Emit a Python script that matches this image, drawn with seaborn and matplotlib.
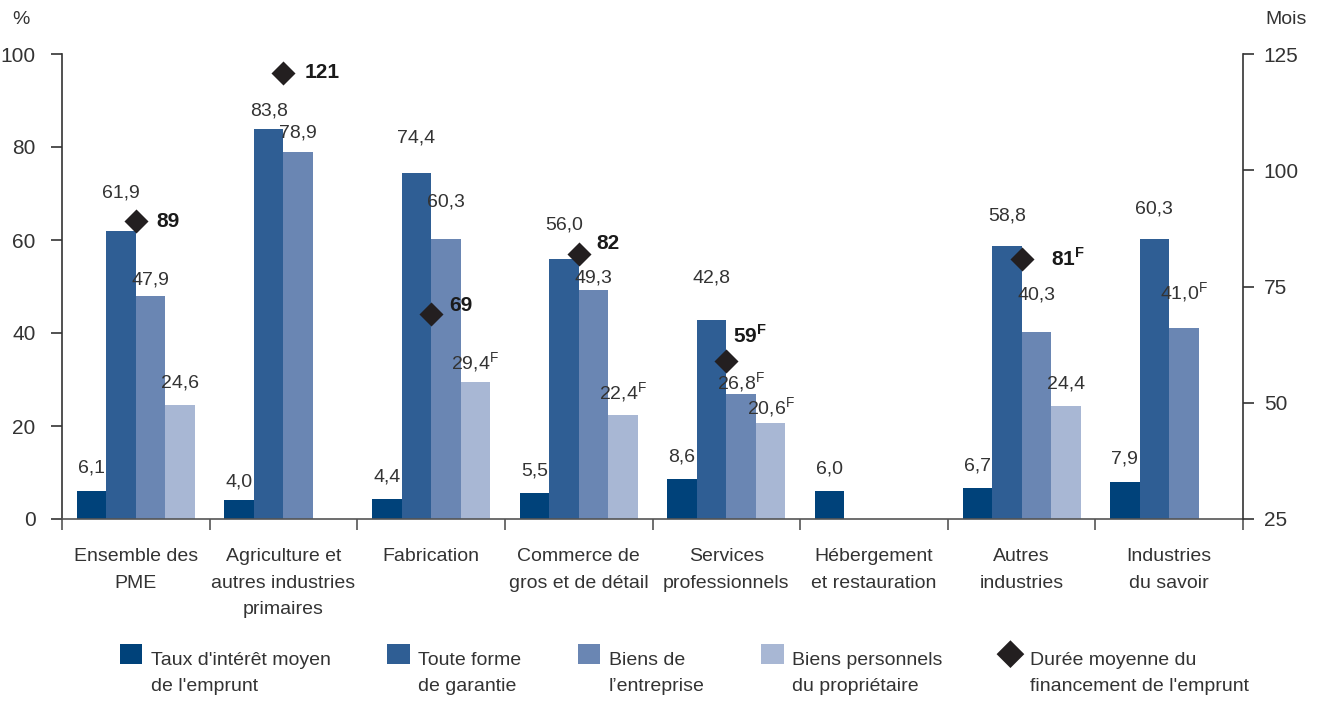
import matplotlib
matplotlib.use("Agg")
import matplotlib.pyplot as plt
from matplotlib.patches import Patch, Rectangle, RegularPolygon
from matplotlib.legend_handler import HandlerPatch
import numpy as np
import pandas as pd
import seaborn as sns

# données
categories = ["Ensemble des\nPME", "Agriculture et\nautres industries\nprimaires",
              "Fabrication", "Commerce de\ngros et de détail", "Services\nprofessionnels",
              "Hébergement\net restauration", "Autres\nindustries", "Industries\ndu savoir"]
series = ["Taux d'intérêt moyen\nde l'emprunt", "Toute forme\nde garantie",
          "Biens de\nl’entreprise", "Biens personnels\ndu propriétaire"]
taux = [6.1, 4.0, 4.4, 5.5, 8.6, 6.0, 6.7, 7.9]
garantie = [61.9, 83.8, 74.4, 56.0, 42.8, np.nan, 58.8, 60.3]
biens_entreprise = [47.9, 78.9, 60.3, 49.3, 26.8, np.nan, 40.3, 41.0]
biens_perso = [24.6, np.nan, 29.4, 22.4, 20.6, np.nan, 24.4, np.nan]
duree = [89, 121, 69, 82, 59, np.nan, 81, np.nan]
duree_label = "Durée moyenne du\nfinancement de l'emprunt"

# F = à utiliser avec prudence
flag_taux = [False] * 8
flag_garantie = [False] * 8
flag_entreprise = [False, False, False, False, True, False, False, True]
flag_perso = [False, False, True, True, True, False, False, False]
flag_duree = [False, False, False, False, True, False, True, False]

colors = ["#00427a", "#2f5e94", "#6a86b3", "#a8b7d4"]
diamond_color = "#231f20"
text_color = "#333333"

# décalage vertical des étiquettes (pixels) pour éviter les chevauchements
lift = [
    [23, 18, 22, 22, 22, 22, 22, 23],
    [38, 18, 35, 34, 42, 0, 30, 30],
    [16, 19, 37, 12, 12, 0, 37, 36],
    [22, 0, 20, 22, 16, 0, 22, 0],
]
duree_offsets = [(21, 0), (21, 0), (18, 9), (18, 10), (7, 25), (0, 0), (29, 0), (0, 0)]

values = [taux, garantie, biens_entreprise, biens_perso]
flags = [flag_taux, flag_garantie, flag_entreprise, flag_perso]

rows = []
for s, vals in zip(series, values):
    for c, v in zip(categories, vals):
        rows.append({"categorie": c, "serie": s, "valeur": v})
df = pd.DataFrame(rows)

sns.set_style("white")
plt.rcParams["font.family"] = ["Liberation Sans", "DejaVu Sans"]
plt.rcParams["mathtext.fontset"] = "custom"
plt.rcParams["mathtext.rm"] = "Liberation Sans"
plt.rcParams["mathtext.bf"] = "Liberation Sans:bold"
plt.rcParams["text.color"] = text_color

fs = 14

fig = plt.figure(figsize=(13.2, 7.03), dpi=100)
ax = fig.add_axes([62 / 1320, 1 - 519 / 703, (1243 - 62) / 1320, (519 - 54) / 703])

sns.barplot(data=df, x="categorie", y="valeur", hue="serie", order=categories,
            hue_order=series, palette=colors, saturation=1, width=0.8,
            errorbar=None, ax=ax, legend=False, linewidth=0)

ax.set_xlim(-0.5, len(categories) - 0.5)
ax.set_ylim(0, 100)
ax.set_yticks([0, 20, 40, 60, 80, 100])
ax.set_xlabel("")
ax.set_ylabel("")

# étiquettes de valeurs
nser = len(series)
for j, (vals, fl) in enumerate(zip(values, flags)):
    for i, v in enumerate(vals):
        if np.isnan(v):
            continue
        x = i + (j - (nser - 1) / 2) * 0.8 / nser
        txt = f"{v:.1f}".replace(".", ",")
        if fl[i]:
            txt += r"$^{\mathregular{F}}$"
        ax.annotate(txt, (x, v), xytext=(0, lift[j][i]), textcoords="offset pixels",
                    ha="center", va="center", fontsize=fs, color=text_color)

# axe de droite : durée
ax2 = ax.twinx()
pos = np.arange(len(categories))
sns.scatterplot(x=pos, y=duree, marker="D", s=150, color=diamond_color,
                edgecolor=diamond_color, linewidth=0, ax=ax2, zorder=5)
ax2.set_ylim(25, 125)
ax2.set_yticks([25, 50, 75, 100, 125])
ax2.set_xlim(-0.5, len(categories) - 0.5)
for i, d in enumerate(duree):
    if np.isnan(d):
        continue
    txt = f"{d:.0f}"
    if flag_duree[i]:
        txt = r"$\mathbf{" + txt + r"}^{\mathbf{F}}$"
    ax2.annotate(txt, (i, d), xytext=duree_offsets[i], textcoords="offset pixels",
                 ha="left", va="center", fontsize=fs + 1, fontweight="bold",
                 color="#1a1a1a")

# style des axes
for a in (ax, ax2):
    a.spines["top"].set_visible(False)
    for side in ("left", "right", "bottom"):
        a.spines[side].set_color("#333333")
        a.spines[side].set_linewidth(1.2)
ax.spines["right"].set_visible(False)
ax2.spines["left"].set_visible(False)
ax2.spines["bottom"].set_visible(False)
ax.spines["bottom"].set_color("#555555")

ax.tick_params(axis="y", direction="out", length=8, width=1.2, pad=11,
               labelsize=fs + 1, colors="#333333", left=True)
ax2.tick_params(axis="y", direction="out", length=8, width=1.2, pad=7,
                labelsize=fs + 1, colors="#333333", right=True)

# graduations aux limites des catégories, libellés au centre
ax.set_xticks(np.arange(len(categories) + 1) - 0.5)
ax.set_xticklabels([])
ax.tick_params(axis="x", which="major", direction="out", length=8, width=1.2,
               color="#555555", bottom=True)
ax.set_xticks(pos, minor=True)
ax.set_xticklabels(categories, minor=True, fontsize=fs, color=text_color,
                   linespacing=1.72)
ax.tick_params(axis="x", which="minor", length=0, pad=21)

fig.text(12 / 1320, 1 - 20 / 703, "%", fontsize=fs, ha="left", va="center")
fig.text(1265 / 1320, 1 - 20 / 703, "Mois", fontsize=fs, ha="left", va="center")


# légende : symboles alignés sur la première ligne du texte
def square_top(legend, orig_handle, xdescent, ydescent, width, height, fontsize):
    return Rectangle((-xdescent, -ydescent + 1.0 * fontsize), width, height)


def diamond_top(legend, orig_handle, xdescent, ydescent, width, height, fontsize):
    return RegularPolygon((-xdescent + width / 2, -ydescent + 1.0 * fontsize + height / 2),
                          numVertices=4, radius=width * 0.62)


handles = [Patch(facecolor=c, edgecolor="none") for c in colors]
diamond_handle = Patch(facecolor=diamond_color, edgecolor="none")
handles.append(diamond_handle)
handler_map = {h: HandlerPatch(patch_func=square_top) for h in handles[:4]}
handler_map[diamond_handle] = HandlerPatch(patch_func=diamond_top)
leg = fig.legend(handles, series + [duree_label], loc="upper left",
                 bbox_to_anchor=(120 / 1320, 1 - 652 / 703), ncol=5, frameon=False,
                 fontsize=fs, handlelength=1.15, handleheight=1.15, handletextpad=0.45,
                 columnspacing=2.9, borderpad=0, borderaxespad=0,
                 handler_map=handler_map)
for t in leg.get_texts():
    t.set_linespacing(1.72)

fig.savefig("out.png", dpi=100)
plt.close(fig)
